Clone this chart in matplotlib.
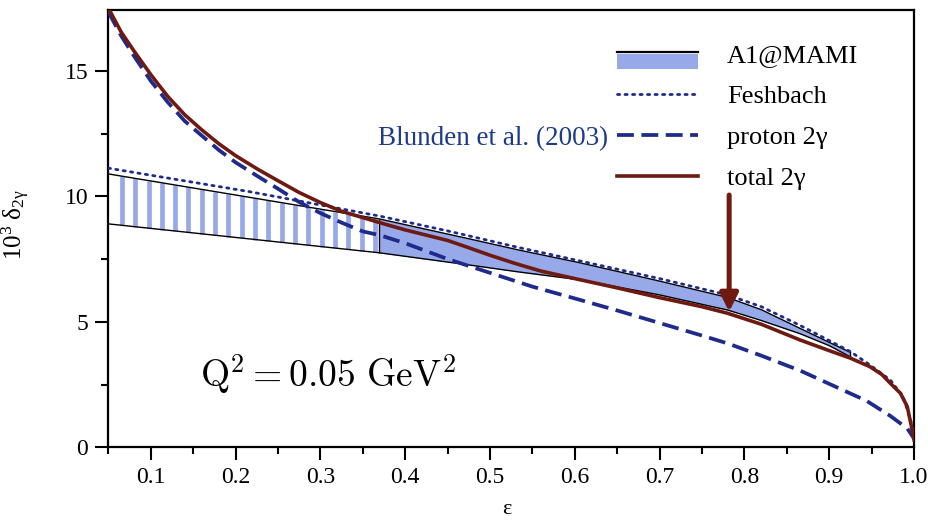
import matplotlib
matplotlib.use('Agg')
import matplotlib.pyplot as plt
import numpy as np
from matplotlib.patches import Rectangle, Patch
from matplotlib.lines import Line2D
from matplotlib.legend_handler import HandlerBase

plt.rcParams['font.family'] = ['Liberation Serif', 'DejaVu Serif']
plt.rcParams['mathtext.fontset'] = 'custom'
plt.rcParams['mathtext.rm'] = 'Liberation Serif'
plt.rcParams['mathtext.it'] = 'Liberation Serif:italic'

# total 2gamma (brown)
eps_total = [0.05, 0.065, 0.08, 0.10, 0.12, 0.14, 0.16, 0.18, 0.20, 0.225, 0.25, 0.275,
             0.30, 0.325, 0.35, 0.375, 0.40, 0.425, 0.45, 0.475, 0.50, 0.53, 0.56, 0.60,
             0.65, 0.70, 0.75, 0.78, 0.82, 0.866, 0.90, 0.925, 0.948, 0.962, 0.972,
             0.984, 0.992, 0.997, 1.00]
total = [17.5, 16.55, 15.8, 14.85, 13.98, 13.25, 12.65, 12.1, 11.62, 11.1, 10.62, 10.15,
         9.75, 9.4, 9.15, 8.9, 8.66, 8.45, 8.24, 7.95, 7.65, 7.32, 7.02, 6.72,
         6.35, 5.96, 5.6, 5.34, 4.9, 4.27, 3.85, 3.55, 3.21, 2.9, 2.55,
         2.15, 1.62, 0.82, 0.3]

# proton 2gamma, Blunden et al. (dashed)
eps_proton = [0.05, 0.065, 0.08, 0.10, 0.12, 0.14, 0.16, 0.18, 0.20, 0.225, 0.25, 0.275,
              0.30, 0.325, 0.35, 0.37, 0.40, 0.45, 0.50, 0.55, 0.60, 0.65, 0.70, 0.75,
              0.78, 0.82, 0.866, 0.905, 0.944, 0.972, 0.992, 1.00]
proton = [17.35, 16.4, 15.6, 14.6, 13.75, 13.0, 12.42, 11.85, 11.35, 10.82, 10.3, 9.77,
          9.33, 8.95, 8.6, 8.45, 8.13, 7.5, 6.95, 6.4, 5.93, 5.45, 4.95, 4.45,
          4.14, 3.65, 3.05, 2.45, 1.85, 1.25, 0.75, 0.35]

# Feshbach (dotted)
eps_fesh = [0.05, 0.217, 0.37, 0.45, 0.535, 0.62, 0.70, 0.78, 0.82, 0.866, 0.90, 0.925,
            0.948, 0.972, 0.987, 0.997, 1.00]
fesh = [11.12, 10.18, 9.21, 8.62, 7.95, 7.32, 6.72, 6.07, 5.6, 4.85, 4.25, 3.81,
        3.28, 2.68, 2.02, 0.96, 0.4]

# A1@MAMI band
eps_band = [0.05, 0.20, 0.369, 0.476, 0.535, 0.606, 0.70, 0.78, 0.82, 0.866, 0.90, 0.925]
band_hi = [10.89, 10.05, 9.1, 8.3, 7.85, 7.35, 6.62, 5.97, 5.48, 4.73, 4.18, 3.78]
band_lo = [8.9, 8.36, 7.75, 7.26, 6.98, 6.67, 6.07, 5.47, 5.05, 4.52, 4.05, 3.6]
eps_split = 0.369  # extrapolated part (striped) to the left

arrow_eps = 0.782
arrow_from, arrow_to = 10.05, 5.4

brown = '#6e1a10'
navy = '#1f2b8c'
band_col = '#97a9e8'

fig = plt.figure(figsize=(9.29, 5.21), dpi=100)
ax = fig.add_axes([0.1166, 0.1415, 0.8673, 0.8393])

eb = np.array(eps_band)
hi = np.array(band_hi)
lo = np.array(band_lo)

# measured part: solid fill
m = eb >= eps_split
ax.fill_between(eb[m], lo[m], hi[m], color=band_col, lw=0, zorder=1)
# extrapolated part: vertical stripes
sx = np.arange(0.066, eps_split, 0.0157)
ax.vlines(sx, np.interp(sx, eb, lo), np.interp(sx, eb, hi), color=band_col, lw=3.4, zorder=1)
ax.plot(eb, hi, color='black', lw=1.0, zorder=2)
ax.plot(eb, lo, color='black', lw=1.0, zorder=2)
ax.vlines([eps_split, eb[-1]], [np.interp(eps_split, eb, lo), lo[-1]],
          [np.interp(eps_split, eb, hi), hi[-1]], color='black', lw=1.0, zorder=2)

ax.plot(eps_proton, proton, color=navy, lw=2.7, linestyle=(0, (4.5, 2.0)), zorder=3)
ax.plot(eps_fesh, fesh, color=navy, lw=2.0, linestyle=(0, (0.8, 1.9)),
        dash_capstyle='round', zorder=3)
ax.plot(eps_total, total, color=brown, lw=2.6, zorder=4)

ax.annotate('', xy=(arrow_eps, arrow_to), xytext=(arrow_eps, arrow_from),
            arrowprops=dict(arrowstyle='-|>', color=brown, lw=3.6,
                            mutation_scale=27, shrinkA=0, shrinkB=0), zorder=5)

ax.set_xlim(0.05, 1.0)
ax.set_ylim(0, 17.42)
ax.set_xticks(np.arange(0.1, 1.01, 0.1))
ax.set_xticklabels([f'{v:.1f}' for v in np.arange(0.1, 1.01, 0.1)])
ax.set_xticks(np.arange(0.05, 1.0, 0.1), minor=True)
ax.set_yticks([0, 5, 10, 15])
ax.set_yticks([2.5, 7.5, 12.5], minor=True)
ax.tick_params(which='major', direction='out', length=9.5, width=1.5, labelsize=17, pad=5)
ax.tick_params(which='minor', direction='out', length=5, width=1.5)
for s in ax.spines.values():
    s.set_linewidth(1.6)

ax.set_xlabel('ε', fontsize=16, va='center')
ax.xaxis.set_label_coords(0.495, -0.142)
ax.set_ylabel(r'$10^3\ \mathrm{\delta}_{2\mathrm{\gamma}}$', fontsize=18, va='center')
ax.yaxis.set_label_coords(-0.1146, 0.508)

ax.text(0.114, 0.139, r'$\mathrm{Q}^2 = 0.05\ \mathrm{GeV}^2$', transform=ax.transAxes,
        fontsize=27, math_fontfamily='cm', ha='left', va='baseline')
ax.text(0.335, 0.705, 'Blunden et al. (2003)', transform=ax.transAxes,
        fontsize=19.5, color='#1c3c88', ha='left', va='center')


class BandHandler(HandlerBase):
    def create_artists(self, legend, orig_handle, xdescent, ydescent, width, height, fontsize, trans):
        x0, y0 = -xdescent, -ydescent
        r = Rectangle((x0, y0 - 0.36 * height), width, 0.8 * height,
                      facecolor=band_col, edgecolor='none', transform=trans)
        l = Line2D([x0, x0 + width], [y0 + 0.57 * height] * 2, color='black', lw=1.6, transform=trans)
        return [r, l]


h_band = Patch(facecolor=band_col)
h_fesh = Line2D([], [], color=navy, lw=2.0, linestyle=(0, (0.8, 1.9)), dash_capstyle='round')
h_prot = Line2D([], [], color=navy, lw=2.7, linestyle=(0, (4.5, 2.0)))
h_tot = Line2D([], [], color=brown, lw=2.6)
ax.legend([h_band, h_fesh, h_prot, h_tot], ['A1@MAMI', 'Feshbach', 'proton 2γ', 'total 2γ'],
          handler_map={h_band: BandHandler()}, loc='upper left', bbox_to_anchor=(0.631, 0.923),
          frameon=False, fontsize=19, handlelength=3.09, handletextpad=1.08,
          labelspacing=0.66, borderpad=0, borderaxespad=0)

fig.savefig('out.png', dpi=100)
